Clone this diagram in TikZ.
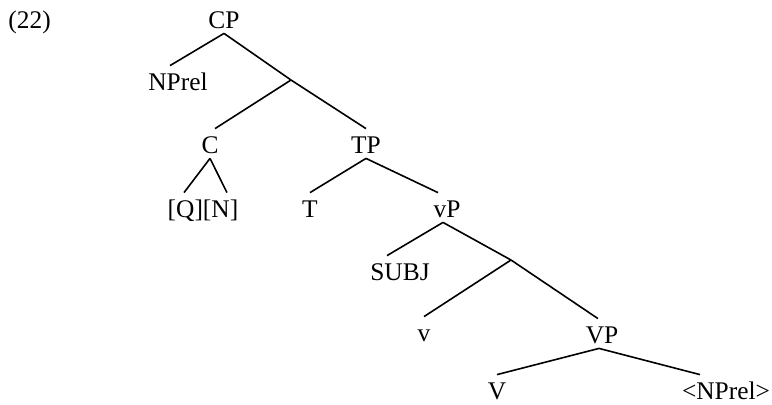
\documentclass[tikz,border=0pt]{standalone}
\usepackage{fontspec}
\setmainfont{Liberation Serif}
\usetikzlibrary{positioning}

\begin{document}
\begin{tikzpicture}[x=0.5pt, y=-0.5pt,
  lbl/.style={anchor=base, inner sep=0pt, text height=12pt, text depth=2.5pt, font=\fontsize{12.7}{15}\selectfont},
  branch/.style={line width=0.8pt}]

  \useasboundingbox (0,0) rectangle (772,404);

  % Example number
  \node[lbl, anchor=base west] (ex) at (8,28) {(22)};

  % Top
  \node[lbl] (CP) at (224,28) {CP};
  \node[lbl] (NPrel) at (178,90) {NPrel};
  \coordinate (Cbar) at (291,80);

  % C and TP
  \node[lbl] (C) at (210,153) {C};
  \node[lbl] (TP) at (366,153) {TP};
  \node[lbl] (QN) at (203,217) {[Q][N]};
  \node[lbl] (T) at (310,217) {T};
  \node[lbl] (vP) at (447,217) {vP};

  % vP
  \node[lbl] (SUBJ) at (400,280) {SUBJ};
  \coordinate (vbar) at (511,260);
  \node[lbl] (v) at (424,341) {v};
  \node[lbl] (VP) at (602,343) {VP};
  \node[lbl] (V) at (497,399) {V};
  \node[lbl] (NPtrace) at (726,399) {<NPrel>};

  % Branches
  \draw[branch] (CP.south) -- ([xshift=-4pt]NPrel.north);
  \draw[branch] (CP.south) -- (Cbar);
  \draw[branch] (Cbar) -- ([xshift=2.5pt]C.north);
  \draw[branch] (Cbar) -- (TP.north);
  \draw[branch] (C.south) -- ([xshift=-9.5pt]QN.north);
  \draw[branch] (C.south) -- ([xshift=12pt]QN.north);
  \draw[branch] (TP.south) -- (T.north);
  \draw[branch] (TP.south) -- ([xshift=-4.5pt]vP.north);
  \draw[branch] ([xshift=-2pt]vP.south) -- ([xshift=-6.5pt]SUBJ.north);
  \draw[branch] ([xshift=-2pt]vP.south) -- (vbar);
  \draw[branch] (vbar) -- (v.north);
  \draw[branch] (vbar) -- ([xshift=-2pt]VP.north);
  \draw[branch] ([xshift=-1.5pt]VP.south) -- (V.north);
  \draw[branch] ([xshift=-1.5pt]VP.south) -- ([xshift=-13pt]NPtrace.north);

\end{tikzpicture}
\end{document}
